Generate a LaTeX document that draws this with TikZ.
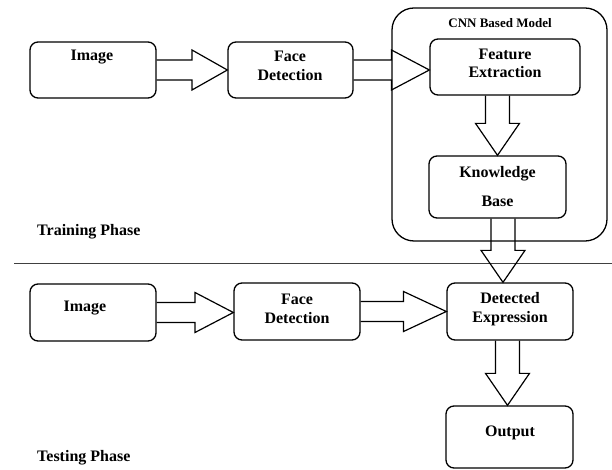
\documentclass[tikz,border=0pt]{standalone}
\usepackage{fontspec}
\setmainfont{Liberation Serif}
\usetikzlibrary{calc}
\tikzset{
  box/.style={draw, line width=1.3pt, rounded corners=8bp, inner sep=0pt},
  lbl/.style={font=\fontsize{16bp}{18.5bp}\selectfont\bfseries, align=center, inner sep=0pt},
  blk/.style={draw, line width=1.2pt, line join=miter},
  divider/.style={draw=black!75, line width=0.8pt},
}
\newcommand\harr[2]{\draw[blk] let \p1=(#1.east), \p2=(#2.west), \p3=($(\p1)!.5!(\p2)$) in
  (\x1,\y1-10bp) -- (\x3,\y1-10bp) -- (\x3,\y1-20bp) -- (\x2,\y1) -- (\x3,\y1+20bp) -- (\x3,\y1+10bp) -- (\x1,\y1+10bp);}
\newcommand\varr[3]{\draw[blk] let \p1=(#1.south), \p2=($(#2.north)+(#3,0)$) in
  ({\x2-12bp},\y1) -- ({\x2-12bp},{\y2+32bp}) -- ({\x2-22bp},{\y2+32bp}) -- (\x2,\y2)
  -- ({\x2+22bp},{\y2+32bp}) -- ({\x2+12bp},{\y2+32bp}) -- ({\x2+12bp},\y1);}
\begin{document}
\begin{tikzpicture}[x=1bp,y=-1bp]
\useasboundingbox (0,0) rectangle (612,470);
% divider
\coordinate (dl) at (14,263);
\coordinate (dr) at (612,263);
\draw[divider] (dl) -- (dr);
% training phase
\node[box, minimum width=126bp, minimum height=56bp] (img1) at (93,70) {};
\node[box, minimum width=125bp, minimum height=56bp] (fd1) at (290.5,70) {};
\node[box, rounded corners=22bp, minimum width=215bp, minimum height=233bp] (cnn) at (499.5,124.5) {};
\node[box, minimum width=150bp, minimum height=56bp] (fe) at (505,67) {};
\node[box, minimum width=137bp, minimum height=62bp] (kb) at (497.5,187) {};
\node[lbl] (img1t) at (92,57) {Image};
\node[lbl] (fd1t) at (290,66) {Face\\Detection};
\node[lbl, font=\fontsize{13bp}{15bp}\selectfont\bfseries] (cnnt) at (500,23) {CNN Based Model};
\node[lbl] (fet) at (505,63.5) {Feature\\Extraction};
\node[lbl, font=\fontsize{16bp}{29bp}\selectfont\bfseries] (kbt) at (497.5,186.5) {Knowledge\\Base};
\node[lbl, anchor=west] (trt) at (37,232) {Training Phase};
% testing phase
\node[box, minimum width=126bp, minimum height=57bp] (img2) at (93,312.5) {};
\node[box, minimum width=126bp, minimum height=57bp] (fd2) at (297,311.5) {};
\node[box, minimum width=126bp, minimum height=57bp] (de) at (510,311.5) {};
\node[box, minimum width=127bp, minimum height=62bp] (out) at (509.5,437) {};
\node[lbl] (img2t) at (85,308) {Image};
\node[lbl] (fd2t) at (297,309) {Face\\Detection};
\node[lbl] (det) at (510,309) {Detected\\Expression};
\node[lbl] (outt) at (510,433) {Output};
\node[lbl, anchor=west] (tet) at (37,458) {Testing Phase};
% block arrows
\harr{img1}{fd1}
\harr{fd1}{fe}
\varr{fe}{kb}{0}
\varr{kb}{de}{-7}
\harr{img2}{fd2}
\harr{fd2}{de}
\varr{de}{out}{-2}
\end{tikzpicture}
\end{document}
